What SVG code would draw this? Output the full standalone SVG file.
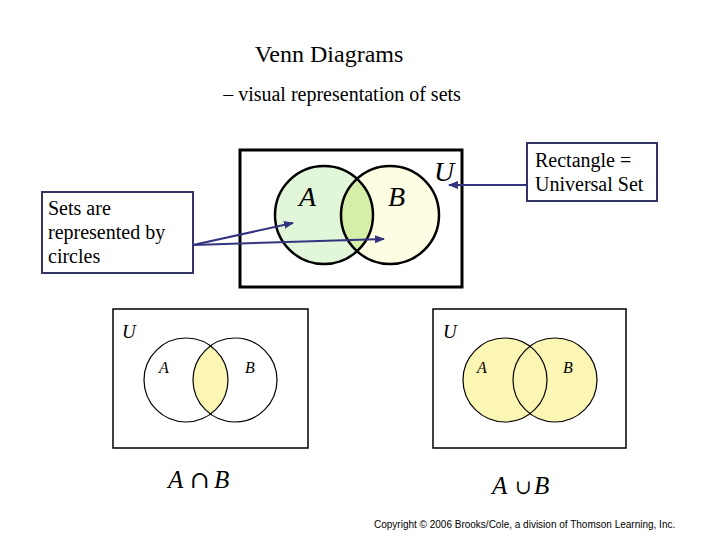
<svg xmlns="http://www.w3.org/2000/svg" width="720" height="540" viewBox="0 0 720 540">
<defs>
<style>
.t{font-family:"Liberation Serif","Times New Roman",serif;fill:#000}
.it{font-family:"Liberation Serif","Times New Roman",serif;font-style:italic;fill:#000}
.sym{font-family:"DejaVu Serif","Liberation Serif",serif;fill:#000}
.box{fill:#fff;stroke:#333366;stroke-width:2}
.conn{stroke:#333380;stroke-width:2;fill:none}
.thin{stroke:#000;stroke-width:1.2}
</style>
<marker id="ah" viewBox="0 0 10 10" refX="9" refY="5" markerWidth="5" markerHeight="5" orient="auto" markerUnits="strokeWidth">
<path d="M0,1 L10,5 L0,9 z" fill="#333380"/>
</marker>
<clipPath id="clipA"><circle cx="324" cy="215" r="49"/></clipPath>
<clipPath id="clipA2"><circle cx="186" cy="380" r="42"/></clipPath>
</defs>
<rect width="720" height="540" fill="#fff"/>
<text class="t" x="329" y="62" font-size="24" text-anchor="middle">Venn Diagrams</text>
<text class="t" x="342" y="101" font-size="20" text-anchor="middle">– visual representation of sets</text>

<g id="top-venn">
<rect x="240" y="150" width="222" height="137" fill="#fff" stroke="#000" stroke-width="3"/>
<circle cx="324" cy="215" r="49" fill="#e2f7da"/>
<circle cx="390" cy="215" r="49" fill="#fcfde2"/>
<circle cx="390" cy="215" r="49" fill="#d6efa8" clip-path="url(#clipA)"/>
<circle cx="324" cy="215" r="49" fill="none" stroke="#000" stroke-width="2.5"/>
<circle cx="390" cy="215" r="49" fill="none" stroke="#000" stroke-width="2.5"/>
<text class="it" x="299" y="206" font-size="28">A</text>
<text class="it" x="388" y="206" font-size="28">B</text>
<text class="it" x="434" y="181" font-size="28">U</text>
</g>

<g id="sets-label">
<rect class="box" x="42" y="192" width="151" height="81"/>
<text class="t" x="48" y="215" font-size="20">Sets are</text>
<text class="t" x="48" y="239" font-size="20">represented by</text>
<text class="t" x="48" y="263" font-size="20">circles</text>
</g>

<g id="universal-label">
<rect class="box" x="527" y="143" width="130" height="58"/>
<text class="t" x="535" y="167" font-size="20">Rectangle =</text>
<text class="t" x="535" y="191" font-size="20">Universal Set</text>
</g>

<g id="connectors">
<line class="conn" x1="193" y1="245" x2="293" y2="223" marker-end="url(#ah)"/>
<line class="conn" x1="193" y1="245" x2="384" y2="239" marker-end="url(#ah)"/>
<line class="conn" x1="527" y1="185" x2="449" y2="185" marker-end="url(#ah)"/>
</g>

<g id="intersection">
<rect x="113" y="309" width="195" height="139" fill="#fff" stroke="#000" stroke-width="1.5"/>
<circle cx="235" cy="380" r="42" fill="#fcf6b4" clip-path="url(#clipA2)"/>
<circle cx="186" cy="380" r="42" fill="none" class="thin"/>
<circle cx="235" cy="380" r="42" fill="none" class="thin"/>
<text class="it" x="122" y="338" font-size="19">U</text>
<text class="it" x="159" y="373" font-size="16">A</text>
<text class="it" x="245" y="373" font-size="16">B</text>
<text class="it" x="168" y="488" font-size="25">A</text>
<text class="sym" x="190" y="488" font-size="24">∩</text>
<text class="it" x="214" y="488" font-size="25">B</text>
</g>

<g id="union">
<rect x="433" y="309" width="193" height="139" fill="#fff" stroke="#000" stroke-width="1.5"/>
<circle cx="505" cy="380" r="42" fill="#fcf6b4"/>
<circle cx="555" cy="380" r="42" fill="#fcf6b4"/>
<circle cx="505" cy="380" r="42" fill="none" class="thin"/>
<circle cx="555" cy="380" r="42" fill="none" class="thin"/>
<text class="it" x="443" y="338" font-size="19">U</text>
<text class="it" x="477" y="373" font-size="16">A</text>
<text class="it" x="563" y="373" font-size="16">B</text>
<text class="it" x="492" y="494" font-size="25">A</text>
<text class="sym" x="515" y="494" font-size="20">∪</text>
<text class="it" x="534" y="494" font-size="25">B</text>
</g>

<text x="374" y="528" font-family="Liberation Sans,Arial,sans-serif" font-size="10" fill="#000">Copyright © 2006 Brooks/Cole, a division of Thomson Learning, Inc.</text>
</svg>
